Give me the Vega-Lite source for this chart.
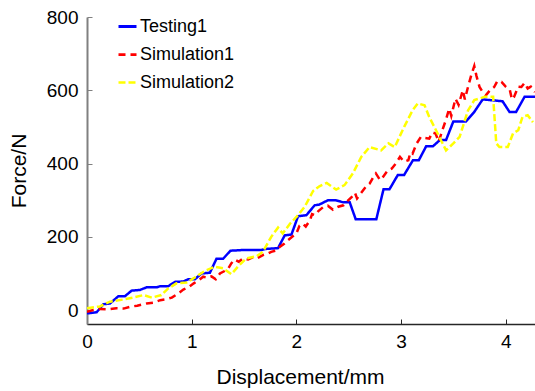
{
  "$schema": "https://vega.github.io/schema/vega-lite/v6.json",
  "width": 448,
  "height": 307,
  "autosize": {"type": "none"},
  "padding": {"left": 87, "top": 17, "right": 0, "bottom": 67},
  "background": "white",
  "config": {
    "view": {"stroke": null},
    "font": "Liberation Sans",
    "axis": {"labelFont": "Liberation Sans", "titleFont": "Liberation Sans", "labelColor": "black", "titleColor": "black", "titleFontWeight": "normal", "grid": false, "labelFlush": false},
    "legend": {"labelFont": "Liberation Sans"}
  },
  "data": {
    "values": [
      {"s": "Testing1", "x": 0, "y": -9},
      {"s": "Testing1", "x": 0.092, "y": -6},
      {"s": "Testing1", "x": 0.156, "y": 16},
      {"s": "Testing1", "x": 0.22, "y": 18},
      {"s": "Testing1", "x": 0.30, "y": 38},
      {"s": "Testing1", "x": 0.363, "y": 38},
      {"s": "Testing1", "x": 0.426, "y": 53},
      {"s": "Testing1", "x": 0.506, "y": 55},
      {"s": "Testing1", "x": 0.569, "y": 62},
      {"s": "Testing1", "x": 0.665, "y": 62},
      {"s": "Testing1", "x": 0.696, "y": 65},
      {"s": "Testing1", "x": 0.776, "y": 65},
      {"s": "Testing1", "x": 0.84, "y": 77},
      {"s": "Testing1", "x": 0.92, "y": 78},
      {"s": "Testing1", "x": 0.967, "y": 84},
      {"s": "Testing1", "x": 1.03, "y": 84},
      {"s": "Testing1", "x": 1.094, "y": 100},
      {"s": "Testing1", "x": 1.174, "y": 102},
      {"s": "Testing1", "x": 1.237, "y": 140},
      {"s": "Testing1", "x": 1.30, "y": 140},
      {"s": "Testing1", "x": 1.37, "y": 162},
      {"s": "Testing1", "x": 1.49, "y": 164},
      {"s": "Testing1", "x": 1.667, "y": 164},
      {"s": "Testing1", "x": 1.71, "y": 167},
      {"s": "Testing1", "x": 1.825, "y": 169},
      {"s": "Testing1", "x": 1.889, "y": 204},
      {"s": "Testing1", "x": 1.953, "y": 206},
      {"s": "Testing1", "x": 2.016, "y": 256},
      {"s": "Testing1", "x": 2.096, "y": 259},
      {"s": "Testing1", "x": 2.175, "y": 286},
      {"s": "Testing1", "x": 2.22, "y": 288},
      {"s": "Testing1", "x": 2.303, "y": 300},
      {"s": "Testing1", "x": 2.37, "y": 300},
      {"s": "Testing1", "x": 2.45, "y": 294},
      {"s": "Testing1", "x": 2.51, "y": 294},
      {"s": "Testing1", "x": 2.567, "y": 248},
      {"s": "Testing1", "x": 2.764, "y": 248},
      {"s": "Testing1", "x": 2.833, "y": 330},
      {"s": "Testing1", "x": 2.89, "y": 330},
      {"s": "Testing1", "x": 2.97, "y": 369},
      {"s": "Testing1", "x": 3.03, "y": 369},
      {"s": "Testing1", "x": 3.114, "y": 409},
      {"s": "Testing1", "x": 3.17, "y": 409},
      {"s": "Testing1", "x": 3.24, "y": 447},
      {"s": "Testing1", "x": 3.305, "y": 447},
      {"s": "Testing1", "x": 3.37, "y": 464},
      {"s": "Testing1", "x": 3.43, "y": 464},
      {"s": "Testing1", "x": 3.50, "y": 515},
      {"s": "Testing1", "x": 3.62, "y": 515},
      {"s": "Testing1", "x": 3.70, "y": 541},
      {"s": "Testing1", "x": 3.78, "y": 575},
      {"s": "Testing1", "x": 3.86, "y": 573},
      {"s": "Testing1", "x": 3.97, "y": 570},
      {"s": "Testing1", "x": 4.036, "y": 541},
      {"s": "Testing1", "x": 4.10, "y": 541},
      {"s": "Testing1", "x": 4.18, "y": 582},
      {"s": "Testing1", "x": 4.28, "y": 582},

      {"s": "Simulation1", "x": 0, "y": -5},
      {"s": "Simulation1", "x": 0.06, "y": 0},
      {"s": "Simulation1", "x": 0.12, "y": 3},
      {"s": "Simulation1", "x": 0.2, "y": 2},
      {"s": "Simulation1", "x": 0.28, "y": 5},
      {"s": "Simulation1", "x": 0.35, "y": 4},
      {"s": "Simulation1", "x": 0.41, "y": 9},
      {"s": "Simulation1", "x": 0.48, "y": 12},
      {"s": "Simulation1", "x": 0.57, "y": 18},
      {"s": "Simulation1", "x": 0.63, "y": 20},
      {"s": "Simulation1", "x": 0.70, "y": 27},
      {"s": "Simulation1", "x": 0.76, "y": 30},
      {"s": "Simulation1", "x": 0.81, "y": 34},
      {"s": "Simulation1", "x": 0.87, "y": 45},
      {"s": "Simulation1", "x": 0.92, "y": 56},
      {"s": "Simulation1", "x": 0.97, "y": 62},
      {"s": "Simulation1", "x": 1.02, "y": 73},
      {"s": "Simulation1", "x": 1.07, "y": 82},
      {"s": "Simulation1", "x": 1.11, "y": 91},
      {"s": "Simulation1", "x": 1.15, "y": 88},
      {"s": "Simulation1", "x": 1.19, "y": 92},
      {"s": "Simulation1", "x": 1.23, "y": 84},
      {"s": "Simulation1", "x": 1.27, "y": 100},
      {"s": "Simulation1", "x": 1.31, "y": 106},
      {"s": "Simulation1", "x": 1.35, "y": 114},
      {"s": "Simulation1", "x": 1.38, "y": 128},
      {"s": "Simulation1", "x": 1.41, "y": 138},
      {"s": "Simulation1", "x": 1.45, "y": 132},
      {"s": "Simulation1", "x": 1.49, "y": 141},
      {"s": "Simulation1", "x": 1.54, "y": 138},
      {"s": "Simulation1", "x": 1.59, "y": 145},
      {"s": "Simulation1", "x": 1.63, "y": 142},
      {"s": "Simulation1", "x": 1.68, "y": 150},
      {"s": "Simulation1", "x": 1.72, "y": 153},
      {"s": "Simulation1", "x": 1.76, "y": 159},
      {"s": "Simulation1", "x": 1.80, "y": 162},
      {"s": "Simulation1", "x": 1.84, "y": 172},
      {"s": "Simulation1", "x": 1.88, "y": 180},
      {"s": "Simulation1", "x": 1.92, "y": 191},
      {"s": "Simulation1", "x": 1.96, "y": 200},
      {"s": "Simulation1", "x": 2.00, "y": 209},
      {"s": "Simulation1", "x": 2.03, "y": 230},
      {"s": "Simulation1", "x": 2.06, "y": 236},
      {"s": "Simulation1", "x": 2.09, "y": 228},
      {"s": "Simulation1", "x": 2.13, "y": 245},
      {"s": "Simulation1", "x": 2.15, "y": 262},
      {"s": "Simulation1", "x": 2.175, "y": 259},
      {"s": "Simulation1", "x": 2.21, "y": 270},
      {"s": "Simulation1", "x": 2.26, "y": 282},
      {"s": "Simulation1", "x": 2.30, "y": 285},
      {"s": "Simulation1", "x": 2.35, "y": 274},
      {"s": "Simulation1", "x": 2.40, "y": 282},
      {"s": "Simulation1", "x": 2.45, "y": 286},
      {"s": "Simulation1", "x": 2.49, "y": 298},
      {"s": "Simulation1", "x": 2.53, "y": 309},
      {"s": "Simulation1", "x": 2.56, "y": 320},
      {"s": "Simulation1", "x": 2.58, "y": 305},
      {"s": "Simulation1", "x": 2.62, "y": 320},
      {"s": "Simulation1", "x": 2.66, "y": 335},
      {"s": "Simulation1", "x": 2.70, "y": 345},
      {"s": "Simulation1", "x": 2.73, "y": 360},
      {"s": "Simulation1", "x": 2.76, "y": 373},
      {"s": "Simulation1", "x": 2.80, "y": 355},
      {"s": "Simulation1", "x": 2.83, "y": 364},
      {"s": "Simulation1", "x": 2.87, "y": 380},
      {"s": "Simulation1", "x": 2.91, "y": 386},
      {"s": "Simulation1", "x": 2.95, "y": 400},
      {"s": "Simulation1", "x": 2.99, "y": 418},
      {"s": "Simulation1", "x": 3.03, "y": 405},
      {"s": "Simulation1", "x": 3.07, "y": 409},
      {"s": "Simulation1", "x": 3.09, "y": 430},
      {"s": "Simulation1", "x": 3.11, "y": 427},
      {"s": "Simulation1", "x": 3.15, "y": 455},
      {"s": "Simulation1", "x": 3.19, "y": 473},
      {"s": "Simulation1", "x": 3.22, "y": 470},
      {"s": "Simulation1", "x": 3.27, "y": 468},
      {"s": "Simulation1", "x": 3.30, "y": 485},
      {"s": "Simulation1", "x": 3.33, "y": 482},
      {"s": "Simulation1", "x": 3.36, "y": 460},
      {"s": "Simulation1", "x": 3.40, "y": 495},
      {"s": "Simulation1", "x": 3.43, "y": 520},
      {"s": "Simulation1", "x": 3.46, "y": 550},
      {"s": "Simulation1", "x": 3.48, "y": 530},
      {"s": "Simulation1", "x": 3.52, "y": 577},
      {"s": "Simulation1", "x": 3.55, "y": 560},
      {"s": "Simulation1", "x": 3.59, "y": 600},
      {"s": "Simulation1", "x": 3.61, "y": 575},
      {"s": "Simulation1", "x": 3.64, "y": 609},
      {"s": "Simulation1", "x": 3.67, "y": 640},
      {"s": "Simulation1", "x": 3.70, "y": 666},
      {"s": "Simulation1", "x": 3.72, "y": 640},
      {"s": "Simulation1", "x": 3.75, "y": 609},
      {"s": "Simulation1", "x": 3.78, "y": 595},
      {"s": "Simulation1", "x": 3.81, "y": 586},
      {"s": "Simulation1", "x": 3.85, "y": 600},
      {"s": "Simulation1", "x": 3.89, "y": 609},
      {"s": "Simulation1", "x": 3.92, "y": 625},
      {"s": "Simulation1", "x": 3.96, "y": 623},
      {"s": "Simulation1", "x": 4.00, "y": 610},
      {"s": "Simulation1", "x": 4.04, "y": 600},
      {"s": "Simulation1", "x": 4.06, "y": 575},
      {"s": "Simulation1", "x": 4.08, "y": 582},
      {"s": "Simulation1", "x": 4.12, "y": 610},
      {"s": "Simulation1", "x": 4.15, "y": 609},
      {"s": "Simulation1", "x": 4.18, "y": 620},
      {"s": "Simulation1", "x": 4.21, "y": 605},
      {"s": "Simulation1", "x": 4.24, "y": 610},
      {"s": "Simulation1", "x": 4.28, "y": 595},

      {"s": "Simulation2", "x": 0, "y": 5},
      {"s": "Simulation2", "x": 0.124, "y": 10},
      {"s": "Simulation2", "x": 0.22, "y": 23},
      {"s": "Simulation2", "x": 0.35, "y": 29},
      {"s": "Simulation2", "x": 0.44, "y": 34},
      {"s": "Simulation2", "x": 0.54, "y": 41},
      {"s": "Simulation2", "x": 0.62, "y": 34},
      {"s": "Simulation2", "x": 0.71, "y": 41},
      {"s": "Simulation2", "x": 0.776, "y": 59},
      {"s": "Simulation2", "x": 0.855, "y": 73},
      {"s": "Simulation2", "x": 0.95, "y": 75},
      {"s": "Simulation2", "x": 1.03, "y": 89},
      {"s": "Simulation2", "x": 1.126, "y": 107},
      {"s": "Simulation2", "x": 1.22, "y": 118},
      {"s": "Simulation2", "x": 1.30, "y": 114},
      {"s": "Simulation2", "x": 1.38, "y": 98},
      {"s": "Simulation2", "x": 1.44, "y": 118},
      {"s": "Simulation2", "x": 1.52, "y": 141},
      {"s": "Simulation2", "x": 1.62, "y": 147},
      {"s": "Simulation2", "x": 1.68, "y": 159},
      {"s": "Simulation2", "x": 1.76, "y": 200},
      {"s": "Simulation2", "x": 1.825, "y": 225},
      {"s": "Simulation2", "x": 1.87, "y": 209},
      {"s": "Simulation2", "x": 1.937, "y": 235},
      {"s": "Simulation2", "x": 2.016, "y": 259},
      {"s": "Simulation2", "x": 2.08, "y": 282},
      {"s": "Simulation2", "x": 2.16, "y": 325},
      {"s": "Simulation2", "x": 2.22, "y": 338},
      {"s": "Simulation2", "x": 2.29, "y": 347},
      {"s": "Simulation2", "x": 2.38, "y": 329},
      {"s": "Simulation2", "x": 2.46, "y": 341},
      {"s": "Simulation2", "x": 2.54, "y": 373},
      {"s": "Simulation2", "x": 2.62, "y": 418},
      {"s": "Simulation2", "x": 2.70, "y": 445},
      {"s": "Simulation2", "x": 2.81, "y": 436},
      {"s": "Simulation2", "x": 2.88, "y": 455},
      {"s": "Simulation2", "x": 2.94, "y": 445},
      {"s": "Simulation2", "x": 3.03, "y": 500},
      {"s": "Simulation2", "x": 3.11, "y": 545},
      {"s": "Simulation2", "x": 3.16, "y": 564},
      {"s": "Simulation2", "x": 3.225, "y": 559},
      {"s": "Simulation2", "x": 3.27, "y": 527},
      {"s": "Simulation2", "x": 3.35, "y": 482},
      {"s": "Simulation2", "x": 3.43, "y": 436},
      {"s": "Simulation2", "x": 3.50, "y": 455},
      {"s": "Simulation2", "x": 3.56, "y": 473},
      {"s": "Simulation2", "x": 3.64, "y": 545},
      {"s": "Simulation2", "x": 3.70, "y": 573},
      {"s": "Simulation2", "x": 3.80, "y": 582},
      {"s": "Simulation2", "x": 3.88, "y": 582},
      {"s": "Simulation2", "x": 3.91, "y": 455},
      {"s": "Simulation2", "x": 3.94, "y": 445},
      {"s": "Simulation2", "x": 4.02, "y": 445},
      {"s": "Simulation2", "x": 4.07, "y": 482},
      {"s": "Simulation2", "x": 4.12, "y": 491},
      {"s": "Simulation2", "x": 4.16, "y": 527},
      {"s": "Simulation2", "x": 4.21, "y": 532},
      {"s": "Simulation2", "x": 4.26, "y": 513}
    ]
  },
  "mark": {"type": "line", "strokeWidth": 2.5, "clip": true},
  "encoding": {
    "x": {
      "field": "x", "type": "quantitative",
      "scale": {"domain": [0, 4.28], "nice": false, "zero": false},
      "axis": {
        "title": "Displacement/mm", "values": [0, 1, 2, 3, 4],
        "titleFontSize": 21, "labelFontSize": 19, "labelPadding": 13,
        "tickSize": -5, "tickColor": "#262626", "domainColor": "#262626", "domainWidth": 1.5,
        "titlePadding": 15, "titleX": 213
      }
    },
    "y": {
      "field": "y", "type": "quantitative",
      "scale": {"domain": [-38, 800], "nice": false, "zero": false},
      "axis": {
        "title": "Force/N", "values": [0, 200, 400, 600, 800],
        "titleFontSize": 21, "labelFontSize": 19, "labelPadding": 14,
        "tickSize": -5, "tickColor": "#808080", "domainColor": "#808080", "domainWidth": 2,
        "titlePadding": 17
      }
    },
    "color": {
      "field": "s", "type": "nominal",
      "scale": {"domain": ["Testing1", "Simulation1", "Simulation2"], "range": ["#0000FF", "#FF0000", "#FFFF00"]},
      "legend": {
        "title": null, "orient": "none", "legendX": 30, "legendY": -1,
        "symbolType": "stroke", "symbolSize": 324, "symbolStrokeWidth": 3,
        "labelFontSize": 18, "labelOffset": 2, "rowPadding": 8, "labelColor": "black"
      }
    },
    "strokeDash": {
      "field": "s", "type": "nominal",
      "scale": {"domain": ["Testing1", "Simulation1", "Simulation2"], "range": [[1, 0], [7, 5], [7, 3]]},
      "legend": null
    },
    "strokeWidth": {
      "field": "s", "type": "nominal",
      "scale": {"domain": ["Testing1", "Simulation1", "Simulation2"], "range": [3, 2.5, 2.5]},
      "legend": null
    }
  }
}
